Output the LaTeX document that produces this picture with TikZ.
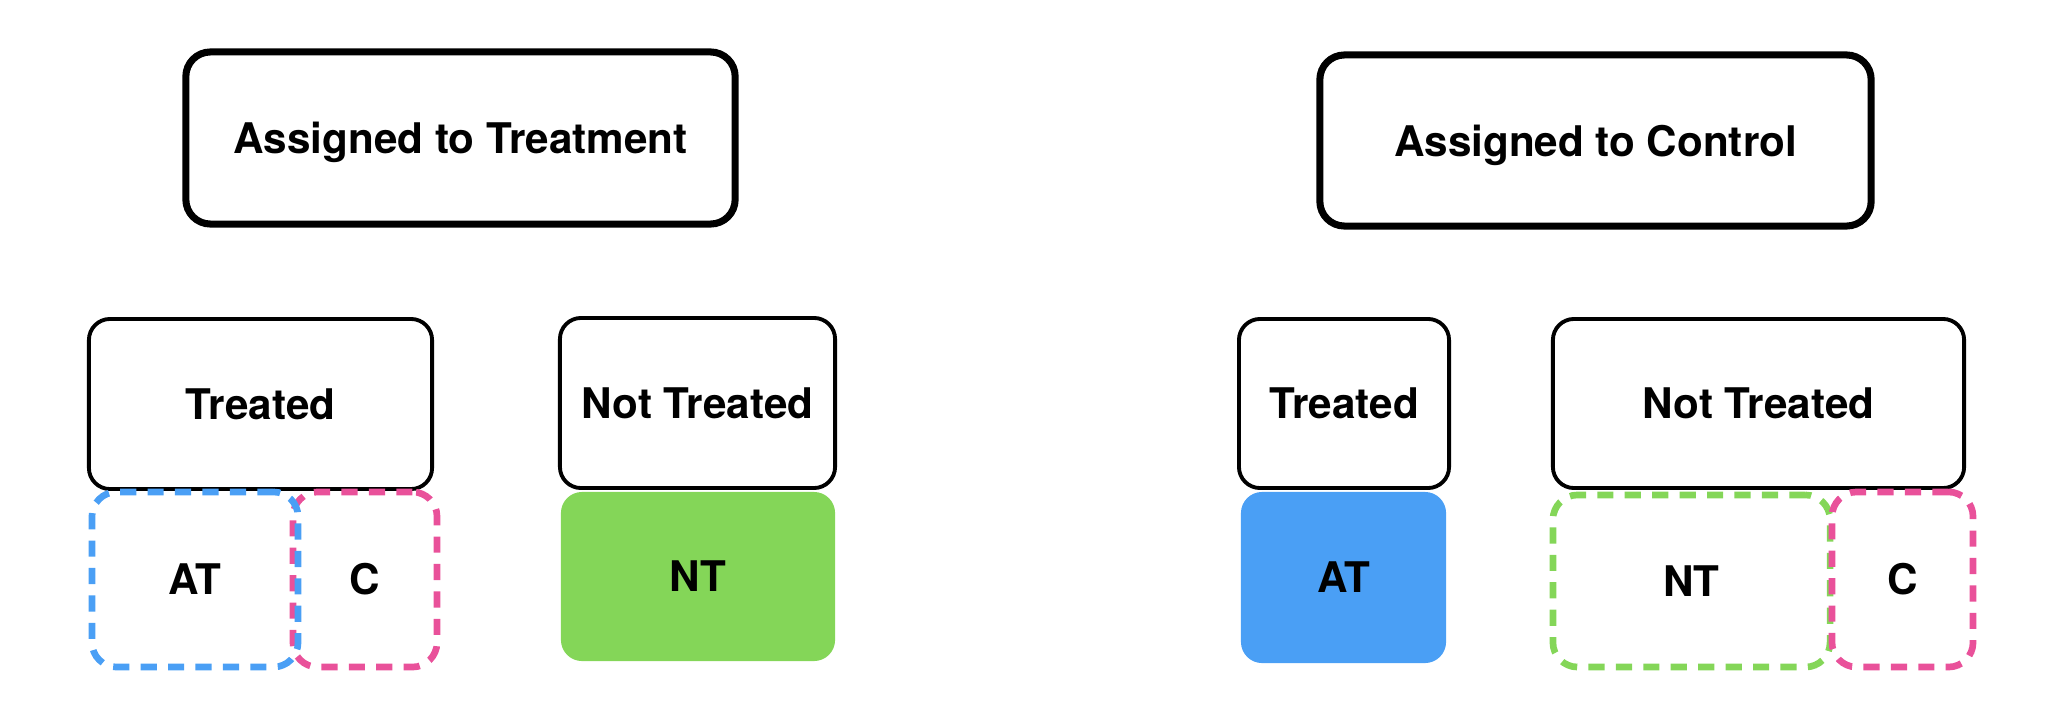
\documentclass[tikz,border=0pt]{standalone}
\usepackage{fontspec}
\setmainfont{TeX Gyre Heros}
\usepackage{xcolor}
\definecolor{at-blue}{HTML}{4A9FF5}
\definecolor{nt-green}{HTML}{84D658}
\definecolor{c-pink}{HTML}{E9519A}
\definecolor{jet}{HTML}{000000}

\begin{document}
\begin{tikzpicture}[x=0.01cm, y=-0.01cm,
    every node/.style={font=\fontsize{12}{14}\selectfont\bfseries, text=jet, inner sep=0pt},
    groupbox/.style={draw=jet, line width=2pt, rounded corners=7pt, text depth=0pt},
    statusbox/.style={draw=jet, line width=1.1pt, rounded corners=6pt},
    typebox/.style={line width=1.9pt, dash pattern=on 4.6pt off 3.2pt, rounded corners=7pt},
    typefill/.style={rounded corners=6pt}]
          \useasboundingbox (0,0) rectangle (2052,718);
          % assignment groups
          \node[groupbox, minimum width=5.49cm, minimum height=1.72cm] (asgT) at (460.5,138) {Assigned to Treatment};
          \node[groupbox, minimum width=5.51cm, minimum height=1.71cm] (asgC) at (1595.5,140.5) {Assigned to Control};
          % treatment arm
          \node[statusbox, minimum width=3.43cm, minimum height=1.70cm] (trT) at (260.5,404) {Treated};
          \node[statusbox, minimum width=2.75cm, minimum height=1.70cm] (ntT) at (697.5,403) {Not Treated};
          \node[typefill, fill=nt-green, minimum width=2.74cm, minimum height=1.69cm] (ntTf) at (698,576.5) {NT};
          \node[typebox, draw=c-pink, minimum width=1.44cm, minimum height=1.75cm] (cT) at (365,579.5) {C};
          \node[typebox, draw=at-blue, minimum width=2.06cm, minimum height=1.75cm] (atT) at (195,579.5) {AT};
          % control arm
          \node[statusbox, minimum width=2.10cm, minimum height=1.69cm] (trC) at (1344,403.5) {Treated};
          \node[statusbox, minimum width=4.11cm, minimum height=1.69cm] (ntC) at (1758.5,403.5) {Not Treated};
          \node[typefill, fill=at-blue, minimum width=2.05cm, minimum height=1.71cm] (atCf) at (1343.5,577.5) {AT};
          \node[typebox, draw=nt-green, minimum width=2.77cm, minimum height=1.72cm] (ntC2) at (1691.5,581) {NT};
          \node[typebox, draw=c-pink, minimum width=1.41cm, minimum height=1.75cm] (cC) at (1902.5,579.5) {C};
        \end{tikzpicture}
\end{document}
